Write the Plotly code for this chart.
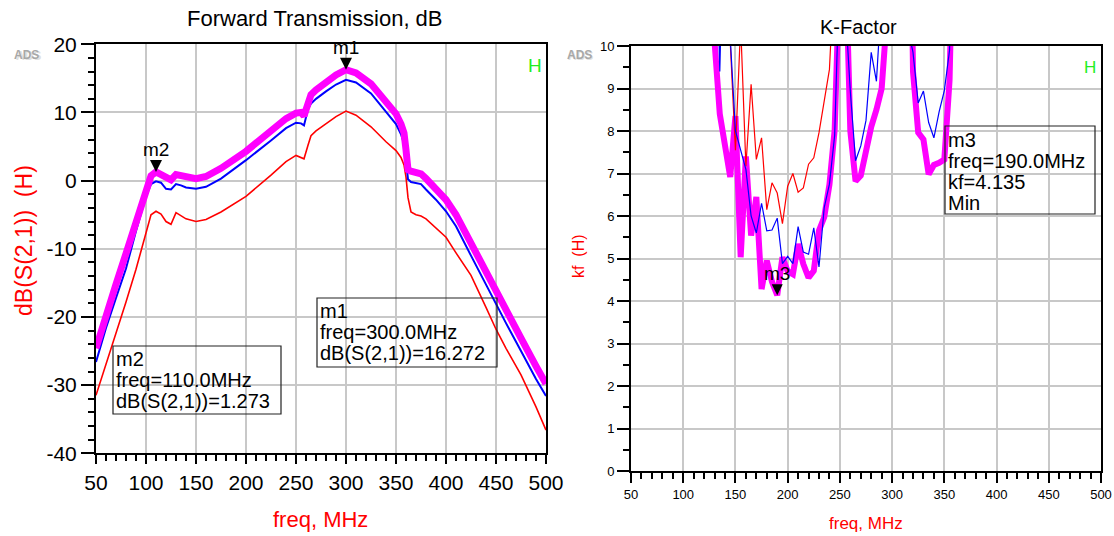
import plotly.graph_objects as go

# ---------------- data: Forward Transmission (dB) ----------------
freq_s21 = [50, 60, 70, 80, 90, 100, 105, 110, 115, 120, 125, 130, 135, 140, 150, 160, 175,
            200, 225, 240, 250, 255, 258, 262, 265, 270, 280, 290, 300, 310, 325, 340, 350,
            355, 358, 360, 362, 365, 370, 375, 380, 390, 400, 410, 425, 440, 450, 460, 475,
            490, 500]
s21_magenta = [-24.6, -19.6, -15.2, -10.7, -5.8, -0.9, 0.7, 1.273, 0.9, 0.3, 0.1, 0.9, 0.8, 0.5,
               0.3, 0.6, 1.8, 4.3, 7.3, 9.1, 9.9, 10.0, 9.5, 11.6, 12.6, 13.3, 14.4, 15.5,
               16.272, 15.8, 14.2, 11.6, 9.8, 8.3, 7.0, 4.5, 1.6, 1.4, 1.3, 1.0, 0.3, -1.2,
               -2.8, -5.0, -9.3, -13.6, -16.4, -19.1, -23.1, -27.2, -29.8]
s21_blue = [-26.6, -21.6, -17.2, -12.9, -7.4, -2.3, -0.5, -0.1, -0.3, -1.2, -1.3, -0.5, -0.7,
            -1.0, -1.2, -0.9, 0.3, 3.0, 5.9, 7.7, 8.5, 8.4, 8.1, 10.5, 11.3, 12.0, 13.1, 14.1,
            14.8, 14.4, 12.8, 10.1, 8.3, 6.8, 5.4, 3.0, 0.2, -0.2, -0.3, -0.5, -1.3, -2.8,
            -4.5, -6.7, -11.0, -15.3, -18.1, -20.9, -25.0, -29.1, -31.6]
s21_red = [-31.5, -27.0, -22.6, -17.8, -13.0, -7.5, -5.0, -4.5, -4.9, -6.0, -6.4, -4.7, -5.2,
           -5.6, -6.0, -5.7, -4.6, -2.3, 0.8, 2.8, 3.7, 3.4, 3.2, 5.2, 6.6, 7.3, 8.3, 9.4,
           10.2, 9.6, 7.9, 5.7, 4.4, 3.4, 2.3, 0.5, -2.5, -4.6, -5.0, -5.2, -5.6, -6.9,
           -8.3, -10.6, -13.9, -18.6, -21.8, -24.6, -28.5, -33.2, -36.6]

# ---------------- data: K-Factor ----------------
freq_k = [125, 130, 135, 140, 145, 150, 155, 160, 165, 170, 175, 180, 185, 190, 195, 200, 205,
          210, 215, 220, 225, 230, 235, 240, 245, 250, 255, 260, 265, 270, 275, 280, 285, 290,
          295, 300, 305, 310, 315, 320, 325, 330, 335, 340, 345, 350, 355, 360, 365]
kf_magenta = [20, 10.1, 8.4, 7.6, 6.92, 8.35, 5.03, 7.4, 5.54, 6.45, 4.28, 4.95, 4.45, 4.135,
              5.03, 4.7, 4.63, 5.34, 4.87, 4.55, 4.71, 5.66, 5.97, 6.74, 8.03, 12.0, 12.5, 8.0,
              6.82, 6.95, 7.55, 8.1, 8.5, 9.0, 10.7, 20, 20, 20, 19, 9.4, 7.96, 7.8, 6.98, 7.2,
              7.25, 7.33, 9.2, 11.5, 20]
kf_blue = [20, 15, 9.4, 14.4, 10.2, 8.0, 7.55, 7.1, 6.0, 5.6, 6.3, 5.65, 5.67, 5.95, 4.88, 5.05,
           4.88, 5.75, 5.15, 5.1, 5.72, 4.8, 6.2, 6.75, 7.9, 12.1, 11, 8.93, 7.3, 7.65, 8.25,
           9.85, 9.17, 11.25, 20, 20, 20, 20, 10.43, 9.85, 8.66, 8.94, 8.2, 7.84, 8.45, 8.95,
           9.9, 13, 20]
kf_red = [20, 20, 20, 14, 10.1, 7.55, 10.5, 7.17, 9.1, 7.33, 7.84, 6.15, 6.78, 6.54, 5.82, 6.7,
          7.0, 6.56, 6.66, 7.22, 7.37, 7.96, 8.7, 9.45, 12, 20]

# ---------------- ticks / markers ----------------
x_ticks = [50, 100, 150, 200, 250, 300, 350, 400, 450, 500]
s21_ticks = [-40, -30, -20, -10, 0, 10, 20]
s21_ticktext = ["-40", "-30", "-20", "-10", "0", "10", "20"]
kf_ticks = [0, 1, 2, 3, 4, 5, 6, 7, 8, 9, 10]

m1 = (300, 16.272)
m2 = (110, 1.273)
m3 = (190, 4.135)

FONT = "Liberation Sans, Arial, sans-serif"
W, H = 1114, 536

fig = go.Figure()
fig.add_trace(go.Scatter(x=freq_s21, y=s21_red, mode="lines", line=dict(color="#ff0000", width=1.6),
                         xaxis="x", yaxis="y"))
fig.add_trace(go.Scatter(x=freq_s21, y=s21_blue, mode="lines", line=dict(color="#0000ff", width=2),
                         xaxis="x", yaxis="y"))
fig.add_trace(go.Scatter(x=freq_s21, y=s21_magenta, mode="lines", line=dict(color="#ff00ff", width=7),
                         xaxis="x", yaxis="y"))

fig.add_trace(go.Scatter(x=freq_k, y=kf_magenta, mode="lines", line=dict(color="#ff00ff", width=6),
                         xaxis="x2", yaxis="y2"))
fig.add_trace(go.Scatter(x=freq_k[:len(kf_red)], y=kf_red, mode="lines",
                         line=dict(color="#ff0000", width=1.2), xaxis="x2", yaxis="y2"))
fig.add_trace(go.Scatter(x=freq_k, y=kf_blue, mode="lines", line=dict(color="#0000ff", width=1.2),
                         xaxis="x2", yaxis="y2"))

grid = "#c8c8c8"


def px_dom(a, b, total, flip=False):
    if flip:
        return [1 - b / total, 1 - a / total]
    return [a / total, b / total]


common = dict(showline=True, linecolor="black", linewidth=2, mirror=True, showgrid=True,
              gridcolor=grid, gridwidth=1.5, zeroline=False, ticks="outside",
              tickcolor="black", tickwidth=1.5, automargin=False)

fig.update_layout(
    width=W, height=H, margin=dict(l=0, r=0, t=0, b=0, pad=0, autoexpand=False),
    paper_bgcolor="white", plot_bgcolor="white", showlegend=False,
    font=dict(family=FONT, color="black"),
    xaxis=dict(domain=px_dom(96, 546, W), range=[50, 500], anchor="y",
               tickvals=x_ticks, tickfont=dict(size=21), ticklen=9,
               minor=dict(tickmode="linear", tick0=50, dtick=10, ticks="outside", ticklen=6,
                          tickwidth=1.5, tickcolor="black", showgrid=False), **common),
    yaxis=dict(domain=px_dom(44.3, 453.3, H, flip=True), range=[-40, 20], anchor="x",
               tickvals=s21_ticks, ticktext=s21_ticktext, tickfont=dict(size=21), ticklen=13,
               minor=dict(tickmode="linear", tick0=-40, dtick=2, ticks="outside", ticklen=6,
                          tickwidth=1.5, tickcolor="black", showgrid=False), **common),
    xaxis2=dict(domain=px_dom(631, 1101, W), range=[50, 500], anchor="y2",
                tickvals=x_ticks, tickfont=dict(size=13), ticklen=10,
                minor=dict(tickmode="linear", tick0=50, dtick=10, ticks="outside", ticklen=6,
                           tickwidth=1.5, tickcolor="black", showgrid=False), **common),
    yaxis2=dict(domain=px_dom(46, 471, H, flip=True), range=[0, 10], anchor="x2",
                tickvals=kf_ticks, tickfont=dict(size=13), ticklen=12,
                minor=dict(tickmode="linear", tick0=0, dtick=0.5, ticks="outside", ticklen=6,
                           tickwidth=1.5, tickcolor="black", showgrid=False), **common),
)

ann = []


def text(x, y, s, size, color="black", xanchor="center", angle=0):
    ann.append(dict(x=x / W, y=1 - y / H, xref="paper", yref="paper", text=s, showarrow=False,
                    xanchor=xanchor, yanchor="middle", textangle=angle,
                    font=dict(size=size, color=color, family=FONT)))


# titles
text(315, 18, "Forward Transmission, dB", 22)
text(858, 27, "K-Factor", 20)
# axis titles
text(320, 519, "freq, MHz", 22, "#ff0000")
text(866, 523, "freq, MHz", 17, "#ff0000")
text(24, 241, "dB(S(2,1))\u00a0\u00a0(H)", 23, "#ff0000", angle=-90)
text(578, 256, "kf\u00a0\u00a0(H)", 16, "#ff0000", angle=-90)
# ADS logos and H markers
for xx in (27, 579):
    text(xx + 1, 56, "<b>ADS</b>", 12, "#e0e0e0")
    text(xx, 55, "<b>ADS</b>", 12, "#a8a8a8")
text(535, 65, "H", 19, "#22ee22")
text(1090, 67, "H", 17, "#22ee22")

# marker readout boxes
boxes = [
    ((317, 298, 497, 367), 318, [311, 332, 353], ["m1", "freq=300.0MHz", "dB(S(2,1))=16.272"]),
    ((113, 346, 281, 414), 114, [359, 380, 401], ["m2", "freq=110.0MHz", "dB(S(2,1))=1.273"]),
    ((945, 126, 1095, 214), 946, [140, 161, 182, 203], ["m3", "freq=190.0MHz", "kf=4.135", "Min"]),
]
shapes = []
for (x0, y0, x1, y1), tx, ys, lines in boxes:
    shapes.append(dict(type="rect", xref="paper", yref="paper", x0=x0 / W, x1=x1 / W,
                       y0=1 - y1 / H, y1=1 - y0 / H, line=dict(color="#222222", width=1.2),
                       fillcolor="rgba(0,0,0,0)"))
    for yy, s in zip(ys, lines):
        text(tx, yy, s, 20, xanchor="left")

# marker triangles + labels
for (mx, my), name, xr, yr, sz in [(m1, "m1", "x", "y", 6), (m2, "m2", "x", "y", 6),
                                   (m3, "m3", "x2", "y2", 5.5)]:
    shapes.append(dict(type="path", xref=xr, yref=yr, xsizemode="pixel", ysizemode="pixel",
                       xanchor=mx, yanchor=my,
                       path=f"M{-sz},{2 * sz} L{sz},{2 * sz} L0,0 Z",
                       fillcolor="black", line=dict(width=0)))
    ann.append(dict(x=mx, y=my, xref=xr, yref=yr, text=name, showarrow=False, yshift=22,
                    yanchor="middle", font=dict(size=19, color="black", family=FONT)))

fig.update_layout(annotations=ann, shapes=shapes)
fig.write_html("out.html", config={"displayModeBar": False},
               post_script="document.body.style.margin='0';document.body.style.overflow='hidden';")
